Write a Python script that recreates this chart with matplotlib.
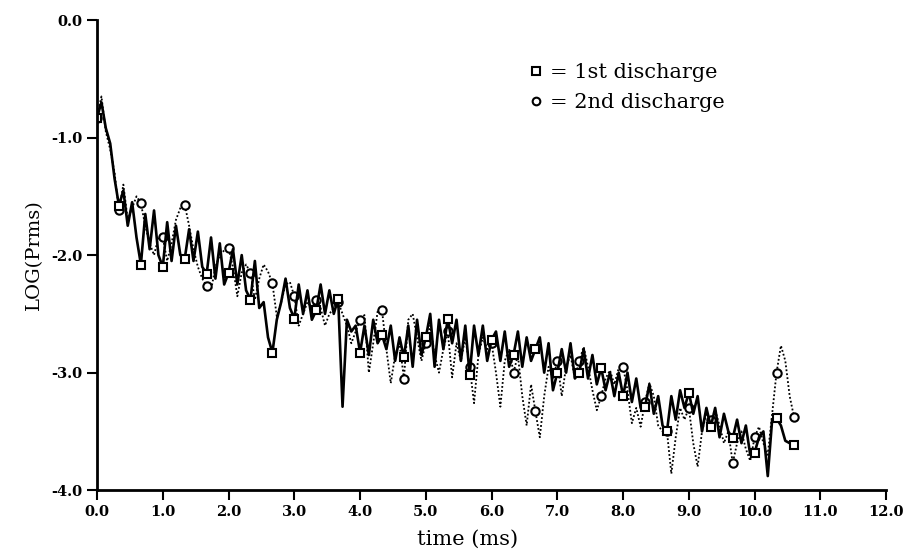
import numpy as np
import matplotlib
matplotlib.use("Agg")
import matplotlib.pyplot as plt
from matplotlib.lines import Line2D

plt.rcParams['axes.unicode_minus'] = False
plt.rcParams['font.family'] = ['DejaVu Serif']

# time grid: 1/15 ms steps, 0 .. 10.6 ms
time_ms = np.arange(160) / 15.0

first_discharge = [
    -0.83, -0.70, -0.92, -1.05, -1.35,
    -1.58, -1.45, -1.75, -1.55, -1.85,
    -2.08, -1.65, -1.95, -1.62, -2.00,
    -2.10, -1.72, -2.05, -1.75, -2.00,
    -2.03, -1.78, -2.05, -1.80, -2.10,
    -2.16, -1.85, -2.20, -1.90, -2.25,
    -2.15, -1.95, -2.25, -2.00, -2.30,
    -2.38, -2.05, -2.45, -2.40, -2.70,
    -2.83, -2.55, -2.40, -2.20, -2.45,
    -2.54, -2.25, -2.50, -2.30, -2.55,
    -2.47, -2.25, -2.50, -2.30, -2.50,
    -2.37, -3.29, -2.55, -2.65, -2.60,
    -2.83, -2.60, -2.85, -2.55, -2.75,
    -2.68, -2.80, -2.60, -2.90, -2.70,
    -2.87, -2.60, -2.95, -2.55, -2.85,
    -2.70, -2.50, -2.95, -2.55, -2.80,
    -2.54, -2.75, -2.55, -2.90, -2.60,
    -3.02, -2.60, -2.85, -2.60, -2.90,
    -2.72, -2.65, -2.90, -2.65, -2.95,
    -2.85, -2.65, -2.95, -2.70, -2.90,
    -2.80, -2.70, -3.00, -2.75, -3.15,
    -3.00, -2.80, -3.00, -2.75, -3.05,
    -3.00, -2.80, -3.05, -2.85, -3.10,
    -2.96, -3.15, -3.00, -3.20, -3.00,
    -3.20, -3.00, -3.25, -3.05, -3.30,
    -3.29, -3.10, -3.35, -3.20, -3.45,
    -3.50, -3.20, -3.40, -3.15, -3.30,
    -3.17, -3.35, -3.20, -3.50, -3.30,
    -3.46, -3.30, -3.55, -3.35, -3.50,
    -3.56, -3.40, -3.60, -3.45, -3.70,
    -3.68, -3.55, -3.50, -3.88, -3.40,
    -3.39, -3.45, -3.58, -3.60, -3.62,
]

second_discharge = [
    -0.83, -0.65, -0.95, -1.10, -1.30,
    -1.62, -1.40, -1.70, -1.60, -1.50,
    -1.56, -1.75, -1.90, -2.00, -1.85,
    -1.85, -2.05, -1.90, -1.70, -1.60,
    -1.57, -1.75, -1.95, -2.10, -2.20,
    -2.26, -2.30, -2.10, -2.00, -1.96,
    -1.94, -2.10, -2.35, -2.15, -2.08,
    -2.15, -2.38, -2.20, -2.08, -2.14,
    -2.24, -2.52, -2.40, -2.25, -2.23,
    -2.35, -2.60, -2.50, -2.40, -2.45,
    -2.38, -2.45, -2.60, -2.50, -2.45,
    -2.40, -2.50, -2.60, -2.75, -2.65,
    -2.55, -2.51, -3.00, -2.75, -2.48,
    -2.47, -2.80, -3.09, -2.85, -2.75,
    -3.05, -2.55, -2.50, -2.70, -2.90,
    -2.75, -2.60, -2.85, -3.00, -2.80,
    -2.65, -3.04, -2.75, -2.90, -2.70,
    -2.95, -3.26, -2.85, -2.70, -2.80,
    -2.75, -3.00, -3.29, -2.90, -2.80,
    -3.00, -2.85, -3.20, -3.45, -3.10,
    -3.33, -3.55, -3.20, -2.95, -3.05,
    -2.90, -3.20, -2.95, -2.85, -3.05,
    -2.90, -2.78, -2.95, -3.15, -3.32,
    -3.20, -3.05, -2.98, -3.10, -2.96,
    -2.95, -3.15, -3.43, -3.30, -3.46,
    -3.25, -3.09, -3.20, -3.45, -3.50,
    -3.50, -3.86, -3.55, -3.30, -3.40,
    -3.30, -3.60, -3.80, -3.50, -3.35,
    -3.40, -3.32, -3.45, -3.60, -3.50,
    -3.77, -3.60, -3.50, -3.65, -3.75,
    -3.55, -3.46, -3.60, -3.70, -3.35,
    -3.00, -2.77, -2.90, -3.20, -3.38,
]

x_ticks = [0, 1, 2, 3, 4, 5, 6, 7, 8, 9, 10, 11, 12]
x_tick_labels = ["0.0", "1.0", "2.0", "3.0", "4.0", "5.0", "6.0", "7.0",
                 "8.0", "9.0", "10.0", "11.0", "12.0"]
y_ticks = [0, -1, -2, -3, -4]
y_tick_labels = ["0.0", "-1.0", "-2.0", "-3.0", "-4.0"]
legend_labels = ["= 1st discharge", "= 2nd discharge"]

marks = list(range(0, 160, 5)) + [159]

fig = plt.figure(figsize=(9.07, 5.57), dpi=100)
ax = fig.add_axes([0.107, 0.120, 0.870, 0.844])

ax.plot(time_ms, second_discharge, color='black', linestyle=(0, (1, 1.2)),
        linewidth=1.3, marker='o', markevery=marks, markersize=6,
        markerfacecolor='white', markeredgecolor='black', markeredgewidth=1.5)
ax.plot(time_ms, first_discharge, color='black', linestyle='-',
        linewidth=1.9, marker='s', markevery=marks, markersize=6,
        markerfacecolor='white', markeredgecolor='black', markeredgewidth=1.5)

ax.set_xlim(0, 12)
ax.set_ylim(-4, 0)
ax.set_xticks(x_ticks)
ax.set_xticklabels(x_tick_labels, fontsize=10.5, fontweight='bold')
ax.set_yticks(y_ticks)
ax.set_yticklabels(y_tick_labels, fontsize=10.5, fontweight='bold')
ax.tick_params(direction='out', length=7, width=1.5, color='black')

for s in ['top', 'right']:
    ax.spines[s].set_visible(False)
for s in ['left', 'bottom']:
    ax.spines[s].set_linewidth(2)

ax.set_xlabel("time (ms)", fontsize=15)
ax.xaxis.set_label_coords(0.47, -0.085)
ax.set_ylabel("LOG(Prms)", fontsize=14, labelpad=6)

handles = [
    Line2D([], [], linestyle='none', marker='s', markersize=5.5,
           markerfacecolor='white', markeredgecolor='black', markeredgewidth=1.5),
    Line2D([], [], linestyle='none', marker='o', markersize=5.5,
           markerfacecolor='white', markeredgecolor='black', markeredgewidth=1.5),
]
ax.legend(handles, legend_labels, loc='upper left', bbox_to_anchor=(0.535, 0.93),
          frameon=False, fontsize=15, handlelength=0.6, handletextpad=0.4,
          labelspacing=0.5, borderpad=0)

fig.savefig("out.png", dpi=100)
